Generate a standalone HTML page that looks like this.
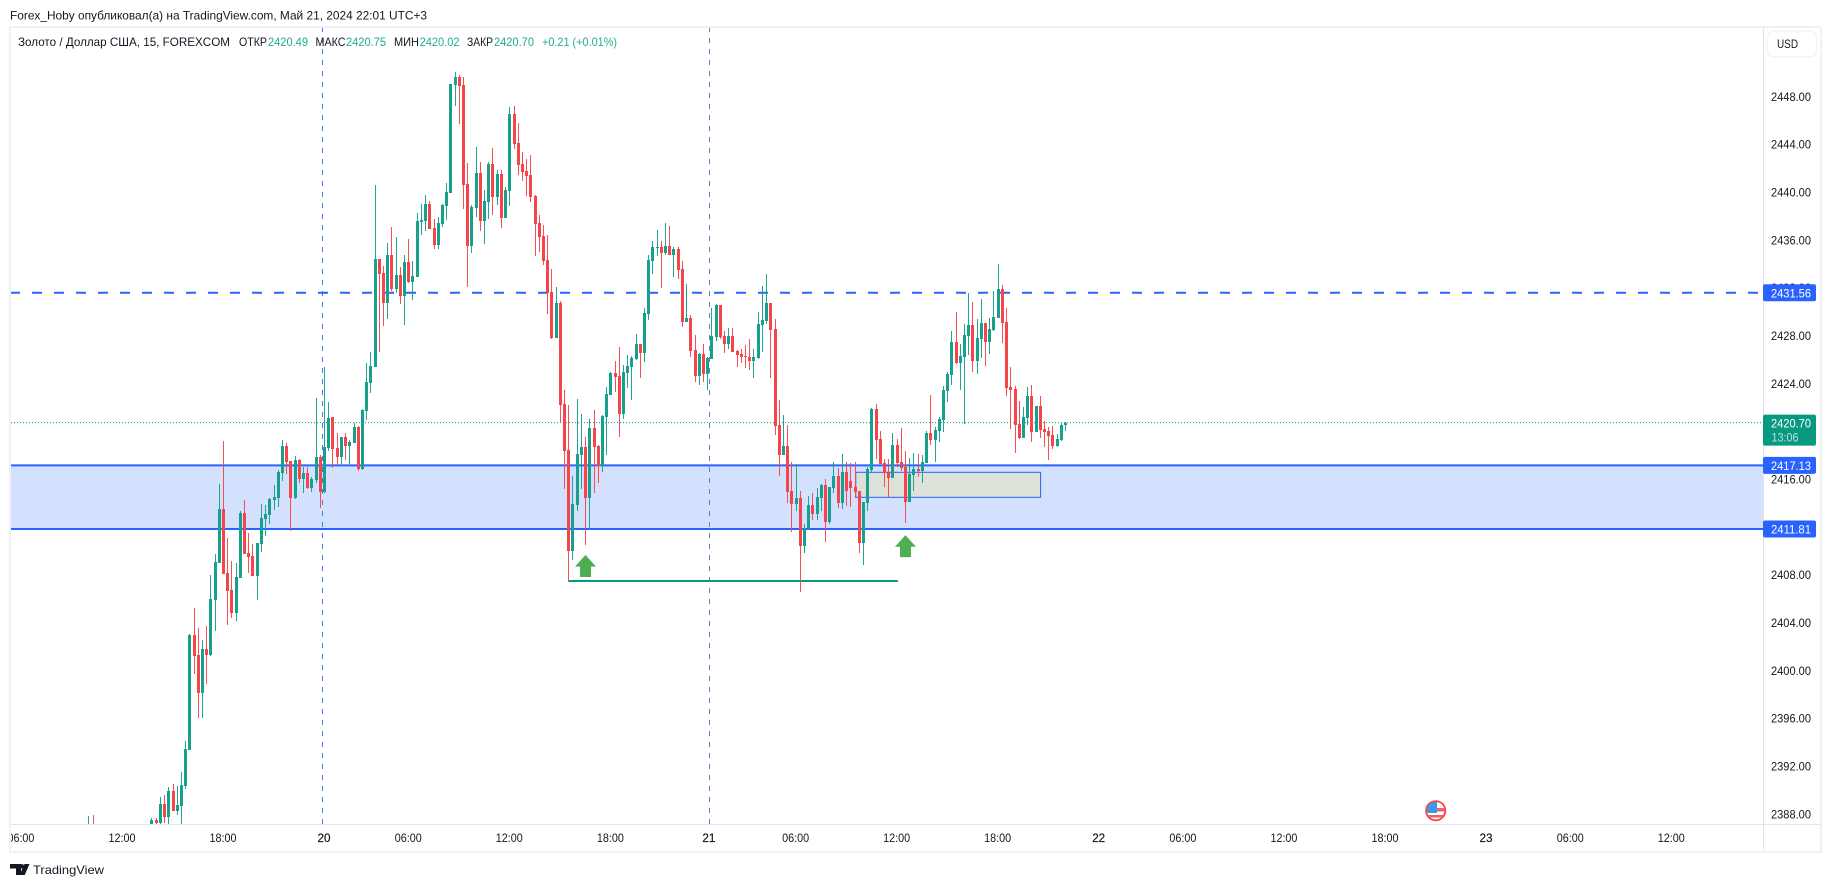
<!DOCTYPE html>
<html lang="ru">
<head>
<meta charset="utf-8">
<title>Gold / USD 15m chart</title>
<style>
html,body{margin:0;padding:0;background:#fff;width:1831px;height:887px;overflow:hidden}
svg{display:block}
text{font-family:"Liberation Sans","Noto Sans CJK JP",sans-serif;font-size:12px;fill:#131722}
</style>
</head>
<body>
<svg id="root" xmlns="http://www.w3.org/2000/svg" width="1831" height="887" viewBox="0 0 1831 887">
  <defs>
    <clipPath id="plotClip"><rect x="11" y="28" width="1752" height="796"/></clipPath>
    <clipPath id="timeClip"><rect x="11" y="825" width="1752" height="26"/></clipPath>
    <clipPath id="flagClip"><circle cx="1435.7" cy="810.7" r="8.8"/></clipPath>
  </defs>
  <rect x="0" y="0" width="1831" height="887" fill="#ffffff"/>
  <text x="10" y="19.5" font-size="13" textLength="417" lengthAdjust="spacingAndGlyphs">Forex_Hoby опубликовал(а) на TradingView.com, Май 21, 2024 22:01 UTC+3</text>
  <rect x="10" y="27" width="1811" height="825" fill="none" stroke="#eff1f6" stroke-width="2"/>
  <line x1="1763.5" y1="28" x2="1763.5" y2="851" stroke="#e0e3eb" stroke-width="1"/>
  <line x1="11" y1="824.5" x2="1820" y2="824.5" stroke="#e0e3eb" stroke-width="1"/>

  <g id="plot" clip-path="url(#plotClip)"></g>
  <g id="timeAxis" clip-path="url(#timeClip)"></g>
  <g id="priceAxis"></g>

  <g font-size="12">
    <text x="18" y="46" textLength="212" lengthAdjust="spacingAndGlyphs">Золото / Доллар США, 15, FOREXCOM</text>
    <text x="239" y="46" textLength="28" lengthAdjust="spacingAndGlyphs">ОТКР</text>
    <text x="268" y="46" textLength="40" lengthAdjust="spacingAndGlyphs" style="fill:#22ab94">2420.49</text>
    <text x="315.5" y="46" textLength="30" lengthAdjust="spacingAndGlyphs">МАКС</text>
    <text x="346" y="46" textLength="40" lengthAdjust="spacingAndGlyphs" style="fill:#22ab94">2420.75</text>
    <text x="394" y="46" textLength="25" lengthAdjust="spacingAndGlyphs">МИН</text>
    <text x="419.6" y="46" textLength="40" lengthAdjust="spacingAndGlyphs" style="fill:#22ab94">2420.02</text>
    <text x="467" y="46" textLength="26" lengthAdjust="spacingAndGlyphs">ЗАКР</text>
    <text x="494" y="46" textLength="40" lengthAdjust="spacingAndGlyphs" style="fill:#22ab94">2420.70</text>
    <text x="542" y="46" textLength="75" lengthAdjust="spacingAndGlyphs" style="fill:#22ab94">+0.21 (+0.01%)</text>
  </g>

  <g>
    <rect x="1767.5" y="31.5" width="49" height="25" rx="6" fill="#ffffff" stroke="#f0f3fa" stroke-width="1.5"/>
    <text x="1777" y="48" textLength="21" lengthAdjust="spacingAndGlyphs">USD</text>
  </g>

  <g>
    <circle cx="1435.7" cy="810.7" r="9.6" fill="#ffffff" stroke="#f5454b" stroke-width="1.8"/>
    <g clip-path="url(#flagClip)">
      <path d="M1437 808h9v3.5h-9zM1427 815h18v2.5h-18z" fill="#f5616a"/>
      <path d="M1427 802h10v11h-10z" fill="#3b9ae8"/>
    </g>
  </g>

  <g>
    <path d="M10 864h11v11h-5v-6.5h-6zM24.5 864h5l-4.8 11h-5.2z" fill="#131722"/>
    <circle cx="22" cy="866.3" r="2.2" fill="#131722"/>
    <text x="33" y="874" font-size="14.5" textLength="71" lengthAdjust="spacingAndGlyphs">TradingView</text>
  </g>
</svg>
<script>
const opens = [2384.6,2385.6,2385.0,2384.6,2385.1,2385.7,2385.2,2384.8,2385.3,2385.9,2385.5,2385.1,2385.8,2386.0,2385.7,
2386.81,2387.48,2387.23,2388.82,2387.73,2389.90,2388.23,2388.65,2390.32,2393.33,2402.95,2401.28,2398.11,2401.78,2401.28,2405.88,2408.98,2413.49,2408.13,2406.72,2404.79,2407.72,2413.15,2409.81,2409.56,2407.89,2410.56,2412.65,2412.98,2414.24,2414.40,2416.50,2418.75,2417.50,2414.40,2417.58,2415.99,2416.50,2415.24,2415.91,2417.83,2414.90,2418.58,2421.18,2418.58,2417.83,2419.51,2418.75,2419.00,2420.34,2416.83,2421.68,2424.02,2425.36,
2434.39,2433.21,2430.71,2434.72,2431.88,2433.05,2431.29,2434.13,2432.46,2432.88,2437.48,2437.56,2438.98,2436.98,2435.55,2437.31,2438.82,2439.90,2448.93,2449.60,2448.93,2440.66,2435.47,2438.65,2441.58,2437.56,2439.15,2442.33,2439.57,2441.49,2437.81,2440.07,2446.51,2444.08,2442.33,2441.74,2441.41,2439.65,2437.40,2436.31,2434.30,2431.63,2427.78,2430.71,2422.26,2418.42,2409.97,2413.82,2418.00,2418.67,2414.40,2420.25,2418.75,2417.08,2421.18,2423.01,2424.85,2424.60,2421.43,2424.85,2425.36,2426.02,2427.28,2426.53,2429.79,2434.22,2435.30,2435.39,2434.89,2435.47,2434.72,2435.22,2433.55,2429.12,2429.45,2426.78,2424.60,2426.44,2424.77,2426.02,2427.86,2430.54,2427.95,2427.28,2427.95,2426.69,2426.44,2426.28,2426.19,2425.85,2426.11,2428.87,2429.20,2430.71,2428.53,2420.51,2418.00,2418.75,2414.99,2413.90,2414.40,2410.39,2411.81,2413.82,2413.07,2414.40,2415.49,2412.40,2415.24,2416.24,2413.99,2416.58,2415.82,2415.32,2414.99,2410.64,2413.99,2416.75,2421.84,2419.34,2417.33,2416.58,2416.07,2418.83,2417.41,2417.00,2414.07,2416.33,2416.83,2416.66,2417.33,2419.84,2419.26,2420.00,2420.93,2423.35,2424.69,2427.45,2425.69,2426.19,2427.95,2428.87,2425.85,2427.70,2429.03,2427.45,2428.45,2429.45,2431.88,2429.12,2423.68,2423.52,2420.59,2419.42,2421.09,2422.93,2419.92,2422.09,2420.17,2420.00,2419.67,2418.75,2419.26,2420.49];
const highs = [2387.81,2387.90,2386.0,2385.4,2386.1,2386.3,2385.9,2385.7,2386.2,2386.5,2386.0,2386.1,2386.4,2386.6,2386.9,
2387.65,2387.65,2389.40,2389.57,2390.24,2390.49,2390.32,2391.49,2394.08,2403.04,2405.21,2403.54,2402.54,2403.71,2407.97,2409.73,2415.58,2419.17,2411.06,2409.14,2408.98,2413.32,2414.24,2411.48,2410.56,2410.64,2413.90,2413.82,2414.40,2415.49,2416.75,2419.26,2419.00,2417.50,2417.92,2417.67,2417.00,2417.00,2416.16,2422.77,2418.00,2425.36,2422.43,2421.18,2419.84,2419.51,2419.84,2419.26,2420.68,2420.42,2421.84,2425.69,2426.61,2440.57,
2434.39,2433.80,2435.72,2437.06,2436.22,2433.72,2434.72,2436.06,2434.22,2438.23,2438.98,2439.74,2439.24,2437.73,2437.90,2438.98,2440.74,2449.02,2450.02,2449.77,2449.60,2442.41,2438.90,2443.75,2442.50,2440.15,2442.50,2443.67,2441.83,2441.83,2440.40,2447.09,2447.18,2445.76,2443.33,2442.75,2443.08,2439.74,2438.06,2437.23,2436.39,2433.55,2432.04,2430.87,2423.43,2422.18,2416.24,2422.68,2421.43,2419.51,2421.01,2421.76,2418.83,2421.34,2423.68,2424.94,2425.85,2427.03,2425.52,2426.36,2426.28,2428.11,2427.28,2430.29,2434.72,2435.89,2436.81,2435.89,2437.40,2437.14,2435.39,2435.39,2434.22,2432.29,2429.70,2428.03,2426.53,2427.28,2426.19,2430.29,2430.62,2430.54,2428.37,2428.62,2428.62,2426.78,2426.86,2427.19,2427.70,2426.86,2429.95,2432.13,2433.13,2430.71,2429.37,2422.60,2421.34,2420.51,2417.41,2417.25,2414.99,2412.23,2414.57,2414.82,2415.24,2415.58,2415.99,2415.32,2417.41,2416.91,2418.08,2417.41,2417.33,2417.41,2414.99,2414.07,2417.00,2421.93,2422.26,2420.00,2417.67,2417.67,2419.84,2419.34,2420.25,2418.34,2417.75,2418.17,2418.08,2418.00,2420.00,2423.01,2420.34,2421.18,2423.77,2424.94,2428.37,2429.95,2427.28,2428.95,2431.55,2430.79,2429.37,2431.04,2429.03,2429.45,2431.71,2433.97,2432.21,2430.29,2425.36,2423.77,2422.51,2422.01,2423.68,2423.85,2422.09,2422.93,2420.84,2420.34,2420.42,2419.75,2420.68,2420.75];
const lows = [2384.0,2384.9,2384.2,2383.9,2384.7,2384.9,2384.4,2384.2,2384.9,2385.2,2384.8,2384.7,2385.3,2385.5,2385.4,
2386.64,2387.06,2386.98,2387.23,2386.98,2388.23,2387.90,2386.98,2390.07,2393.33,2399.69,2396.01,2396.01,2398.86,2401.20,2403.29,2408.98,2408.05,2403.79,2404.37,2404.12,2407.72,2409.73,2408.13,2407.89,2405.88,2409.89,2411.23,2412.23,2413.40,2413.65,2415.82,2416.41,2411.65,2414.32,2415.66,2414.82,2415.16,2414.90,2415.66,2413.57,2414.82,2418.34,2416.91,2417.16,2417.25,2417.58,2417.25,2419.00,2416.66,2416.75,2420.93,2423.18,2425.36,
2426.61,2428.78,2429.37,2431.71,2431.55,2430.62,2428.87,2432.38,2430.96,2432.88,2436.39,2436.73,2436.89,2435.22,2435.22,2437.06,2437.65,2439.90,2447.18,2445.67,2438.57,2432.04,2434.89,2437.90,2436.73,2435.64,2437.73,2438.06,2438.90,2436.98,2437.81,2438.82,2443.58,2441.41,2440.91,2439.65,2439.15,2434.64,2434.97,2433.88,2429.79,2427.70,2427.78,2420.68,2415.16,2407.46,2409.22,2413.32,2415.16,2410.47,2411.81,2414.82,2415.66,2416.58,2418.00,2423.01,2423.26,2419.51,2421.01,2423.60,2422.60,2425.94,2424.43,2425.77,2429.29,2433.13,2434.64,2431.96,2434.72,2434.72,2432.88,2432.71,2428.70,2429.12,2426.19,2424.11,2423.85,2424.11,2423.43,2426.02,2427.53,2427.70,2426.53,2426.86,2426.61,2425.36,2425.69,2425.27,2425.10,2424.43,2426.02,2426.61,2428.95,2424.43,2419.67,2416.24,2418.00,2413.99,2411.56,2413.32,2406.55,2409.81,2411.73,2412.56,2412.56,2413.32,2410.72,2412.23,2414.82,2413.57,2413.49,2413.73,2413.65,2414.40,2409.81,2408.80,2413.32,2416.58,2417.67,2417.25,2415.32,2414.40,2416.07,2417.00,2416.66,2412.31,2414.07,2414.99,2416.16,2415.66,2417.33,2418.83,2417.41,2419.09,2419.92,2422.43,2423.85,2425.61,2423.43,2420.59,2426.36,2424.94,2424.77,2426.11,2425.44,2426.44,2428.37,2429.45,2427.36,2422.93,2420.17,2418.17,2419.34,2419.42,2420.51,2419.09,2419.92,2419.42,2418.67,2417.58,2418.50,2418.67,2419.17,2420.02];
const closes = [2385.6,2385.0,2384.6,2385.1,2385.7,2385.2,2384.8,2385.3,2385.9,2385.5,2385.1,2385.8,2386.0,2385.7,2386.6,
2387.48,2387.23,2388.82,2387.73,2389.90,2388.23,2388.74,2390.40,2393.41,2402.95,2401.20,2398.11,2401.78,2401.28,2405.96,2409.06,2413.49,2408.05,2406.64,2404.79,2407.80,2413.15,2409.73,2409.48,2407.89,2410.64,2412.73,2413.07,2414.32,2414.49,2416.58,2418.75,2417.41,2414.40,2417.58,2415.99,2416.50,2415.24,2415.99,2417.83,2414.90,2418.67,2421.10,2418.50,2417.83,2419.51,2418.75,2419.09,2420.34,2416.83,2421.76,2424.11,2425.44,2434.39,
2433.13,2430.71,2434.72,2431.88,2433.05,2431.29,2434.13,2432.46,2432.96,2437.56,2437.65,2438.98,2436.89,2435.55,2437.40,2438.90,2439.99,2449.02,2449.60,2448.85,2440.57,2435.47,2438.73,2441.58,2437.56,2439.24,2442.33,2439.57,2441.49,2437.81,2440.15,2446.51,2444.00,2442.24,2441.66,2441.32,2439.57,2437.31,2436.22,2434.22,2431.55,2427.78,2430.71,2422.18,2418.34,2409.97,2413.90,2418.08,2418.67,2414.40,2420.25,2418.67,2417.08,2421.26,2423.10,2424.85,2424.52,2421.43,2424.94,2425.44,2426.11,2427.28,2426.53,2429.87,2434.30,2435.39,2435.39,2434.89,2435.47,2434.72,2435.22,2433.47,2429.12,2429.45,2426.69,2424.60,2426.44,2424.77,2426.11,2427.95,2430.54,2427.86,2427.28,2427.95,2426.61,2426.36,2426.19,2426.19,2425.85,2426.19,2428.95,2429.29,2430.71,2428.45,2420.42,2418.00,2418.75,2414.90,2413.90,2414.40,2410.39,2411.90,2413.82,2413.07,2414.49,2415.49,2412.40,2415.32,2416.24,2413.99,2416.58,2414.99,2415.24,2414.90,2410.64,2414.07,2416.83,2421.84,2419.26,2417.25,2416.50,2416.07,2418.83,2417.33,2416.91,2414.07,2416.41,2416.83,2416.66,2417.41,2419.84,2419.26,2420.09,2421.01,2423.43,2424.77,2427.45,2425.69,2426.28,2428.03,2428.87,2425.85,2427.78,2429.03,2427.45,2428.53,2429.54,2431.88,2429.03,2423.60,2423.43,2420.51,2419.42,2421.18,2422.93,2419.92,2422.09,2420.09,2419.92,2419.59,2418.75,2419.34,2420.51,2420.70];

const priceTicks = [2448,2444,2440,2436,2432,2428,2424,2416,2408,2404,2400,2396,2392,2388];
const timeLabels = ["06:00","12:00","18:00","20","06:00","12:00","18:00","21","06:00","12:00","18:00","22","06:00","12:00","18:00","23","06:00","12:00"];
const timeSlots = [-16,8,32,56,76,100,124,147.4,168,192,216,240,260,284,308,332,352,376];
const sessionLevel = [2431.56];
const zoneLevels = [2417.13,2411.81];
const boxLevels = [2416.55,2414.46];
const boxSlots = [182.3,226.2];
const lastPrice = [2420.70];
const countdown = ["13:06"];
const supportLevel = [2407.46];
const supportSlots = [114,192.3];
const dayMarkerSlots = [55.6,147.45];
const arrowSlots = [118.1,194.1];
const arrowTipPrices = [2409.64,2411.3];

const UP = "#17a08d", DOWN = "#f5454b", BLUE = "#2962ff", TEAL = "#089981";
const SVGNS = "http://www.w3.org/2000/svg";
function xOf(slot){ return 88.3 + slot * 4.21; }
function yOf(price){ return (2456.04 - price) / 0.08361; }
function make(parent, tag, attrs){
  const el = document.createElementNS(SVGNS, tag);
  for (const k in attrs) el.setAttribute(k, attrs[k]);
  parent.appendChild(el);
  return el;
}
const plot = document.getElementById("plot");
const timeAxis = document.getElementById("timeAxis");
const priceAxis = document.getElementById("priceAxis");

// price zone
const zone = make(plot, "rect", {x:11, y:yOf(zoneLevels[0]), width:1752, height:yOf(zoneLevels[1])-yOf(zoneLevels[0]), fill:"#d3e0fe"});



// consolidation box
const box = make(plot, "rect", {x:xOf(boxSlots[0]), y:yOf(boxLevels[0]), width:xOf(boxSlots[1])-xOf(boxSlots[0]), height:yOf(boxLevels[1])-yOf(boxLevels[0]), fill:"#dde2d8", stroke:BLUE, "stroke-width":1});



// vertical day markers
dayMarkerSlots.forEach(function(s, i){
  const mx = Math.round(xOf(s)) + 0.5;
  const m = make(plot, "line", {x1:mx, x2:mx, y1:27, y2:824, stroke:i===0?"#3b7cf0":"#5a82cc", "stroke-width":1, "stroke-dasharray":"5 6"});
  
  
});

// last price line
const lastLine = make(plot, "line", {x1:11, x2:1763, y1:yOf(lastPrice[0]), y2:yOf(lastPrice[0]), stroke:TEAL, "stroke-width":1, "stroke-dasharray":"1 2"});



// dashed resistance level
const dashLine = make(plot, "line", {x1:10, x2:1763, y1:yOf(sessionLevel[0]), y2:yOf(sessionLevel[0]), stroke:BLUE, "stroke-width":2, "stroke-dasharray":"10 12"});



// zone edge lines
zoneLevels.forEach(function(p){
  const l = make(plot, "line", {x1:11, x2:1763, y1:yOf(p), y2:yOf(p), stroke:BLUE, "stroke-width":2});
  
  
});

// support line
const support = make(plot, "line", {x1:xOf(supportSlots[0]), x2:xOf(supportSlots[1]), y1:yOf(supportLevel[0]), y2:yOf(supportLevel[0]), stroke:TEAL, "stroke-width":2});



// candles
opens.forEach(function(o, i){
  const c = closes[i], h = highs[i], l = lows[i];
  const col = c >= o ? UP : DOWN;
  const cx = Math.round(xOf(i));
  const top = Math.round(yOf(Math.max(o, c)));
  const bot = Math.round(yOf(Math.min(o, c)));
  const yh = Math.round(yOf(h));
  const yl = Math.round(yOf(l));
  const g = make(plot, "g", {});
  
  
  const wick = make(g, "rect", {x:cx, y:yh, width:1, height:Math.max(1, yl-yh), fill:col, "fill-opacity":0.95});
  
  
  const body = make(g, "rect", {x:cx-1, y:top, width:3, height:Math.max(1, bot-top), fill:col});
  
  
});

// arrows
arrowSlots.forEach(function(s, i){
  const cx = xOf(s), tip = yOf(arrowTipPrices[i]);
  const d = "M"+cx+" "+tip+"L"+(cx+10.5)+" "+(tip+11.7)+"H"+(cx+5.5)+"V"+(tip+22)+"H"+(cx-5.5)+"V"+(tip+11.7)+"H"+(cx-10.5)+"Z";
  const a = make(plot, "path", {d:d, fill:"#4caf50"});
  
  
});

// time axis
timeLabels.forEach(function(label, i){
  const isDay = label.length === 2;
  const t = make(timeAxis, "text", {x:xOf(timeSlots[i]), y:842, "text-anchor":"middle", textLength:isDay?13:27, lengthAdjust:"spacingAndGlyphs", stroke:isDay?"#131722":"none", "stroke-width":0.2});
  t.textContent = label;
  
  
});

// price axis ticks
priceTicks.forEach(function(p){
  const t = make(priceAxis, "text", {x:1771, y:yOf(p)+4.6, textLength:40, lengthAdjust:"spacingAndGlyphs"});
  t.textContent = p.toFixed(2);
  
  
});

// price axis badges
function badge(price, color, name){
  const y = yOf(price);
  const r = make(priceAxis, "rect", {x:1763, y:y-8.5, width:53, height:17, rx:2, fill:color});
  
  
  const t = make(priceAxis, "text", {x:1771, y:y+4.5, textLength:40, lengthAdjust:"spacingAndGlyphs", style:"fill:#ffffff"});
  t.textContent = price.toFixed(2);
  
  
}
badge(sessionLevel[0], BLUE, "resistance");
badge(zoneLevels[0], BLUE, "zone-top");
badge(zoneLevels[1], BLUE, "zone-bottom");

const lastY = yOf(lastPrice[0]);
const lastBox = make(priceAxis, "rect", {x:1763, y:lastY-8, width:53, height:31, rx:2, fill:TEAL});


const lastText = make(priceAxis, "text", {x:1771, y:lastY+5, textLength:40, lengthAdjust:"spacingAndGlyphs", style:"fill:#ffffff"});
lastText.textContent = lastPrice[0].toFixed(2);


const cdText = make(priceAxis, "text", {x:1771.5, y:lastY+19, textLength:27, lengthAdjust:"spacingAndGlyphs", style:"fill:#ffffff;fill-opacity:.72"});
cdText.textContent = countdown[0];


</script>
</body>
</html>
